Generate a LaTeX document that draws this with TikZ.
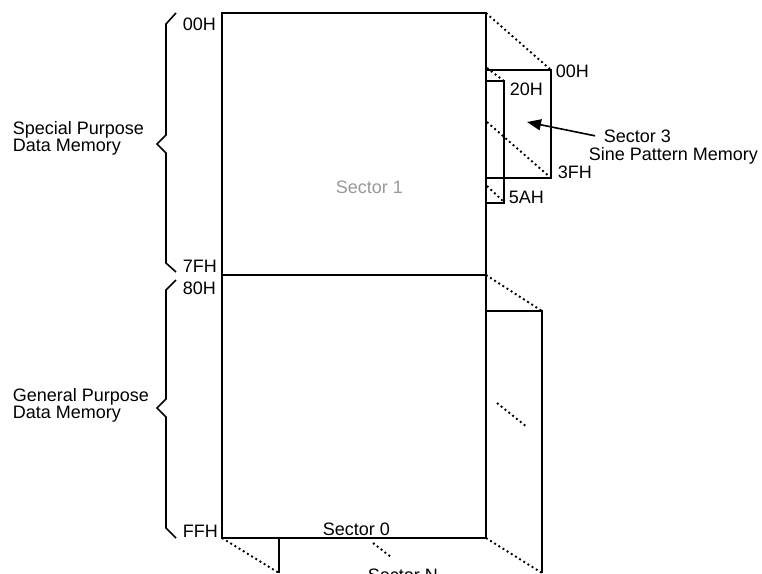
\documentclass[tikz,border=0pt]{standalone}
\usepackage{fontspec}
\setmainfont{Liberation Sans}
\usetikzlibrary{arrows.meta}
\begin{document}
\begin{tikzpicture}[x=1pt, y=-1pt, line width=1.6pt,
        lbl/.style = {inner sep=0pt, anchor=base west, font=\fontsize{18}{16.5}\selectfont},
        twoline/.style = {lbl, align=left},
        edge/.style = {line width=1.9pt, dash pattern=on 1.9pt off 3pt, line cap=butt},
        arr/.style = {line width=1.6pt, -{Triangle[length=14pt, width=11pt]}}]

        \useasboundingbox (0,0) rectangle (762,573);
        \clip (0,0) rectangle (762,573);

        % Sector 0 and Sector 1
        \draw (222,13) rectangle (486,538);
        \draw (222,275) -- (486,275);
        \node[lbl, text=black!40] (sec1) at (335,193) {Sector 1};
        \node[lbl] (sec0) at (322,535) {Sector 0};

        % Sector 3
        \draw (486,70) -- (551,70) -- (551,178) -- (486,178);
        \draw (487,81) -- (504,81) -- (504,203) -- (487,203);
        \draw[edge] (486,13) -- (551,70);
        \draw[edge] (487,68) -- (504,81);
        \draw[edge] (487,122) -- (551,178);
        \draw[edge] (487,186) -- (504,202);

        % Sector N
        \draw (486,311) -- (542,311) -- (542,573);
        \draw (279,538) -- (279,573);
        \draw[edge] (486,275) -- (542,311);
        \draw[edge] (497,403) -- (527,427);
        \draw[edge] (222,538) -- (279,573);
        \draw[edge] (486,538) -- (542,573);
        \draw[edge] (373,543) -- (391,557);
        \node[lbl] (secN) at (367,581) {Sector N};

        % Addresses
        \node[lbl] (a00) at (182,30) {00H};
        \node[lbl] (a7F) at (182,272) {7FH};
        \node[lbl] (a80) at (182,294) {80H};
        \node[lbl] (aFF) at (182,537) {FFH};
        \node[lbl] (b00) at (555,77) {00H};
        \node[lbl] (b20) at (509,95) {20H};
        \node[lbl] (b3F) at (557,178) {3FH};
        \node[lbl] (b5A) at (508,203) {5AH};

        % Sector 3 label
        \node[lbl] (s3) at (603,142) {Sector 3};
        \node[lbl] (s3b) at (588,160) {Sine Pattern Memory};
        \coordinate (s3tip) at (527,122);
        \draw[arr] ([xshift=-8pt]s3.west) -- (s3tip);

        % Braces
        \draw (176,13) -- (166,24) -- (166,135) -- (157,144) -- (166,153) -- (166,263) -- (176,272);
        \draw (176,280) -- (166,290) -- (166,399) -- (157,408) -- (166,417) -- (166,528) -- (176,538);
        \node[twoline] (special) at (12,151) {Special Purpose\\Data Memory};
        \node[twoline] (general) at (12,418) {General Purpose\\Data Memory};
    \end{tikzpicture}
\end{document}
